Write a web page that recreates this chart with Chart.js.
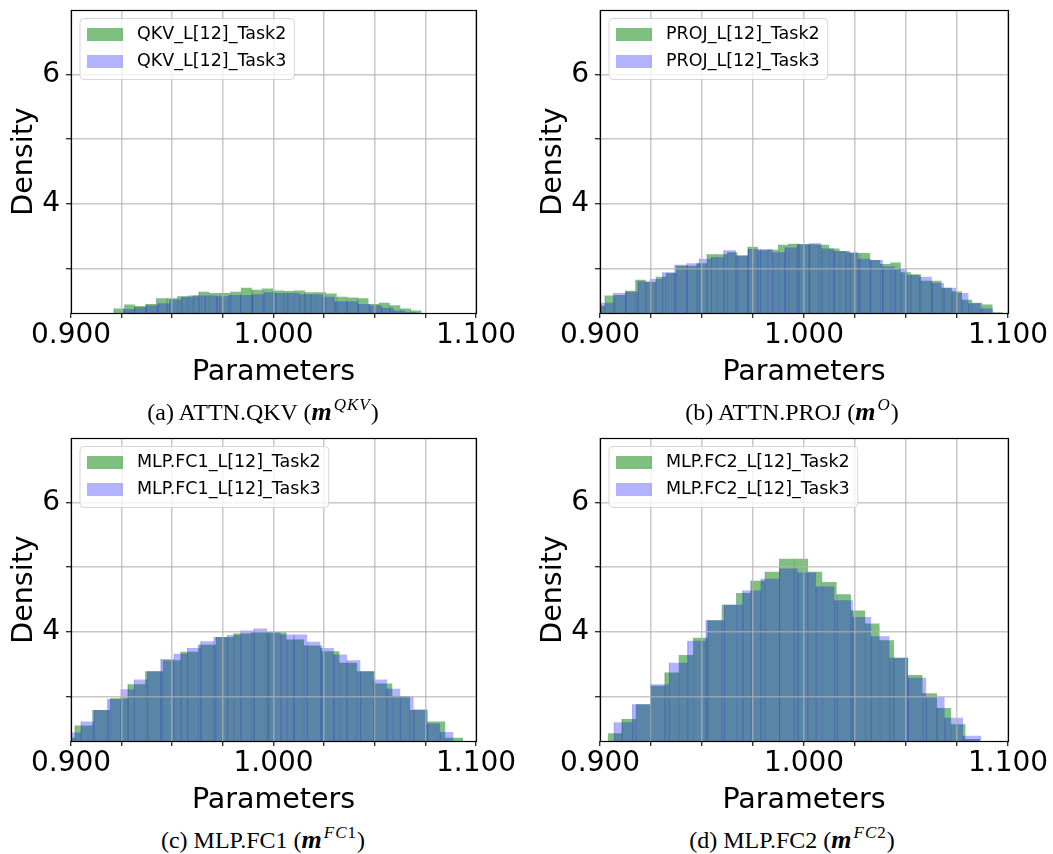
<!DOCTYPE html>
<html>
<head>
<meta charset="utf-8">
<script src="https://cdn.jsdelivr.net/npm/chart.js@4.4.1/dist/chart.umd.min.js"></script>
<style>
html,body{margin:0;padding:0;background:#fff;}
#wrap{position:relative;width:1053px;height:854px;overflow:hidden;background:#fff;}
canvas{position:absolute;}
.cap{position:absolute;width:526px;text-align:center;font-family:"Liberation Serif","Times New Roman",serif;font-size:24px;line-height:28px;color:#000;white-space:nowrap;}
.cap .m{font-weight:bold;font-style:italic;font-size:26px;}
.cap .s{font-style:italic;font-size:17px;position:relative;top:-10px;margin-left:2px;letter-spacing:1px;}
.cap .u{font-style:normal;}
</style>
</head>
<body>
<div id="wrap">
  <canvas id="cA" width="526" height="395" style="left:0;top:0"></canvas>
  <canvas id="cB" width="524" height="395" style="left:529px;top:0"></canvas>
  <canvas id="cC" width="526" height="395" style="left:0;top:428px"></canvas>
  <canvas id="cD" width="524" height="395" style="left:529px;top:428px"></canvas>
  <div class="cap" style="left:0;top:398px">(a) ATTN.QKV (<span class="m">m</span><span class="s">QKV</span>)</div>
  <div class="cap" style="left:529px;top:398px">(b) ATTN.PROJ (<span class="m">m</span><span class="s">O</span>)</div>
  <div class="cap" style="left:0;top:826px">(c) MLP.FC1 (<span class="m">m</span><span class="s">FC<span class="u">1</span></span>)</div>
  <div class="cap" style="left:529px;top:826px">(d) MLP.FC2 (<span class="m">m</span><span class="s">FC<span class="u">2</span></span>)</div>
</div>
<script>
// ---------- axes ----------
const xMin = 0.9, xMax = 1.1;
const yMin = 2.31, yMax = 7.0;
const xTickValues = [0.9, 0.925, 0.95, 0.975, 1.0, 1.025, 1.05, 1.075, 1.1];
const xTickLabels = ['0.900', '', '', '', '1.000', '', '', '', '1.100'];
const yTickValues = [3, 4, 5, 6];
const yTickLabels = ['', '4', '', '6'];

// ---------- (a) ATTN.QKV ----------
const qkvLabels = ['QKV_L[12]_Task2', 'QKV_L[12]_Task3'];
const qkvTask2Start = 0.916, qkvTask2Width = 0.00524;
const qkvTask2 = [2.31, 2.38, 2.44, 2.42, 2.45, 2.54, 2.54, 2.57, 2.58, 2.64, 2.62, 2.62, 2.64, 2.70, 2.67, 2.69,
                  2.66, 2.65, 2.66, 2.63, 2.63, 2.61, 2.56, 2.55, 2.54, 2.45, 2.47, 2.43, 2.38, 2.35, 2.31];
const qkvTask3Start = 0.92555, qkvTask3Width = 0.00582;
const qkvTask3 = [2.37, 2.40, 2.43, 2.46, 2.52, 2.56, 2.58, 2.58, 2.57, 2.59, 2.59, 2.60, 2.63, 2.62, 2.62, 2.60,
                  2.60, 2.56, 2.49, 2.49, 2.45, 2.43, 2.39, 2.35, 2.32];

// ---------- (b) ATTN.PROJ ----------
const projLabels = ['PROJ_L[12]_Task2', 'PROJ_L[12]_Task3'];
const projTask2Start = 0.8975, projTask2Width = 0.005;
const projTask2 = [2.42, 2.58, 2.59, 2.655, 2.825, 2.79, 2.87, 2.93, 3.04, 3.04, 3.08, 3.22, 3.22, 3.25, 3.20, 3.335,
                   3.28, 3.29, 3.366, 3.38, 3.376, 3.376, 3.366, 3.31, 3.27, 3.24, 3.24, 3.13, 3.07, 3.09, 2.94, 2.91,
                   2.81, 2.81, 2.70, 2.645, 2.515, 2.47, 2.44, 2.32];
const projTask3Start = 0.8947, projTask3Width = 0.006;
const projTask3 = [2.45, 2.47, 2.62, 2.64, 2.80, 2.835, 2.94, 3.057, 3.08, 3.15, 3.175, 3.28, 3.20, 3.30, 3.30, 3.25,
                   3.325, 3.376, 3.39, 3.31, 3.27, 3.25, 3.15, 3.13, 3.03, 2.99, 2.90, 2.87, 2.78, 2.70, 2.62, 2.46, 2.38];

// ---------- (c) MLP.FC1 ----------
const fc1Labels = ['MLP.FC1_L[12]_Task2', 'MLP.FC1_L[12]_Task3'];
const fc1Task2Start = 0.8933, fc1Task2Width = 0.00871;
const fc1Task2 = [2.36, 2.55, 2.79, 2.97, 3.19, 3.39, 3.56, 3.69, 3.80, 3.92, 3.975, 3.995, 3.995, 3.88, 3.79, 3.70,
                  3.52, 3.39, 3.20, 3.005, 2.79, 2.61, 2.36];
const fc1Task3Start = 0.89844, fc1Task3Width = 0.00657;
const fc1Task3 = [2.44, 2.61, 2.79, 2.96, 3.11, 3.26, 3.39, 3.58, 3.66, 3.75, 3.855, 3.92, 3.95, 4.02, 4.05, 3.995,
                  3.96, 3.96, 3.845, 3.75, 3.65, 3.56, 3.39, 3.26, 3.12, 2.995, 2.80, 2.58, 2.45];

// ---------- (d) MLP.FC2 ----------
const fc2Labels = ['MLP.FC2_L[12]_Task2', 'MLP.FC2_L[12]_Task3'];
const fc2Task2Start = 0.90375, fc2Task2Width = 0.00702;
const fc2Task2 = [2.43, 2.65, 2.88, 3.165, 3.37, 3.64, 3.91, 4.18, 4.42, 4.60, 4.79, 4.93, 5.13, 5.13, 4.93, 4.77,
                  4.58, 4.33, 4.13, 3.87, 3.60, 3.33, 3.05, 2.82, 2.57, 2.34];
const fc2Task3Start = 0.898, fc2Task3Width = 0.009;
const fc2Task3 = [2.20, 2.60, 2.88, 3.19, 3.52, 3.86, 4.18, 4.42, 4.64, 4.82, 4.98, 4.92, 4.70, 4.49, 4.23, 3.93,
                  3.60, 3.29, 2.99, 2.67, 2.39];

// ---------- styling ----------
const GREEN_FILL = 'rgba(0,128,0,0.5)';
const BLUE_FILL = 'rgba(0,0,255,0.3)';
const GREEN_SEAM = 'rgba(0,80,60,0.4)';
const BLUE_SEAM = 'rgba(0,0,220,0.35)';
const GRID = 'rgba(176,176,176,0.7)';
const FONT = '"DejaVu Sans", sans-serif';

// histogram outline built from bin start, width and heights (with seam at each inner bin edge)
function histPoints(start, width, heights) {
  const pts = [{x: start, y: heights[0]}];
  for (let i = 1; i < heights.length; i++) {
    const e = start + i * width;
    pts.push({x: e, y: heights[i - 1]}, {x: e, y: 0}, {x: e, y: heights[i]});
  }
  pts.push({x: start + heights.length * width, y: heights[heights.length - 1]});
  return pts;
}

function histDataset(label, start, width, heights, fill, seam, order) {
  const pts = histPoints(start, width, heights);
  return {
    label: label,
    data: pts,
    order: order,
    backgroundColor: fill,
    borderColor: 'transparent',
    borderWidth: 1,
    fill: 'origin',
    pointRadius: 0,
    pointHoverRadius: 0,
    tension: 0,
    segment: {
      borderColor: (c) => {
        const a = pts[c.p0DataIndex], b = pts[c.p1DataIndex];
        return (a && b && a.x === b.x && a.y === 0) ? seam : 'transparent';
      }
    }
  };
}

const framePlugin = {
  id: 'frame',
  afterDraw(chart) {
    const {ctx, chartArea: a} = chart;
    ctx.save();
    ctx.strokeStyle = '#000';
    ctx.lineWidth = 1.2;
    ctx.strokeRect(Math.round(a.left) + 0.5, Math.round(a.top) + 0.5,
                   Math.round(a.right - a.left), Math.round(a.bottom - a.top));
    ctx.restore();
  }
};

const legendPlugin = {
  id: 'insideLegend',
  afterDraw(chart) {
    const {ctx, chartArea} = chart;
    const ds = chart.data.datasets;
    const fs = 17.5;
    ctx.save();
    ctx.font = fs + 'px ' + FONT;
    const tw = Math.max(...ds.map(d => ctx.measureText(d.label).width));
    const x0 = chartArea.left + 9, y0 = chartArea.top + 8.5;
    const w = 57 + tw + 8, h = 61;
    ctx.beginPath();
    ctx.roundRect(x0, y0, w, h, 4);
    ctx.fillStyle = 'rgba(255,255,255,0.8)';
    ctx.fill();
    ctx.strokeStyle = 'rgba(204,204,204,0.8)';
    ctx.lineWidth = 1;
    ctx.stroke();
    ds.forEach((d, i) => {
      const cy = y0 + 16 + i * 27;
      ctx.fillStyle = d.backgroundColor;
      ctx.fillRect(x0 + 7, cy - 6.5, 36, 13);
      ctx.fillStyle = '#000';
      ctx.textBaseline = 'middle';
      ctx.textAlign = 'left';
      ctx.fillText(d.label, x0 + 57, cy);
    });
    ctx.restore();
  }
};

function makeChart(id, labels, g, b, padRight) {
  const datasets = [
    histDataset(labels[0], g.start, g.width, g.heights, GREEN_FILL, GREEN_SEAM, 2),
    histDataset(labels[1], b.start, b.width, b.heights, BLUE_FILL, BLUE_SEAM, 1)
  ];
  return new Chart(document.getElementById(id), {
    type: 'line',
    data: {datasets: datasets},
    options: {
      responsive: false,
      animation: false,
      devicePixelRatio: 1,
      events: [],
      layout: {padding: {left: 0, top: 10, right: padRight, bottom: 5}},
      plugins: {legend: {display: false}, tooltip: {enabled: false}},
      scales: {
        x: {
          type: 'linear', min: xMin, max: xMax,
          afterBuildTicks: (s) => { s.ticks = xTickValues.map(v => ({value: v})); },
          afterFit: (s) => { s.height = 77; s.paddingLeft = 0; s.paddingRight = 0; },
          grid: {color: GRID, lineWidth: 1.5, z: 1, drawTicks: true, tickLength: 5, tickColor: '#000', tickWidth: 1.1},
          border: {display: false},
          ticks: {autoSkip: false, maxRotation: 0, minRotation: 0, padding: 1, color: '#000',
                  font: {family: FONT, size: 28}, callback: (v, i) => xTickLabels[i]},
          title: {display: true, text: 'Parameters', color: '#000', font: {family: FONT, size: 28.5},
                  padding: {top: 0, bottom: 0}}
        },
        y: {
          type: 'linear', min: yMin, max: yMax,
          afterBuildTicks: (s) => { s.ticks = yTickValues.map(v => ({value: v})); },
          afterFit: (s) => { s.width = 71; s.paddingTop = 0; s.paddingBottom = 0; },
          grid: {color: GRID, lineWidth: 1.5, z: 1, drawTicks: true, tickLength: 5, tickColor: '#000', tickWidth: 1.1},
          border: {display: false},
          ticks: {autoSkip: false, padding: 6, color: '#000',
                  font: {family: FONT, size: 28}, callback: (v, i) => yTickLabels[i]},
          title: {display: true, text: 'Density', color: '#000', font: {family: FONT, size: 28.5},
                  padding: {top: 7, bottom: 0}}
        }
      }
    },
    plugins: [framePlugin, legendPlugin]
  });
}

makeChart('cA', qkvLabels,
  {start: qkvTask2Start, width: qkvTask2Width, heights: qkvTask2},
  {start: qkvTask3Start, width: qkvTask3Width, heights: qkvTask3}, 50);
makeChart('cB', projLabels,
  {start: projTask2Start, width: projTask2Width, heights: projTask2},
  {start: projTask3Start, width: projTask3Width, heights: projTask3}, 45);
makeChart('cC', fc1Labels,
  {start: fc1Task2Start, width: fc1Task2Width, heights: fc1Task2},
  {start: fc1Task3Start, width: fc1Task3Width, heights: fc1Task3}, 50);
makeChart('cD', fc2Labels,
  {start: fc2Task2Start, width: fc2Task2Width, heights: fc2Task2},
  {start: fc2Task3Start, width: fc2Task3Width, heights: fc2Task3}, 45);
</script>
</body>
</html>
